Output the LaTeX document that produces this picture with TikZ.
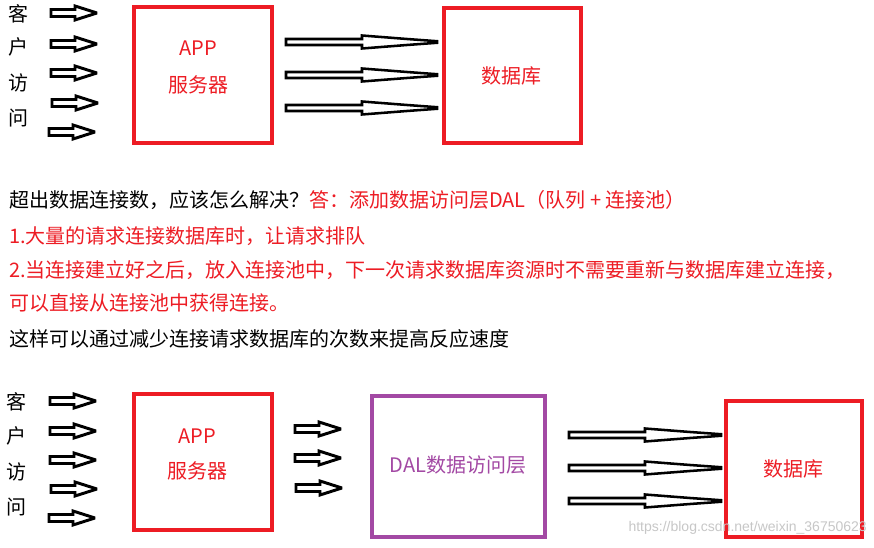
\documentclass[tikz,border=0pt]{standalone}
\usepackage{fontspec}
\newfontfamily\cjk{Noto Sans CJK SC}
\newfontfamily\wmfont{Liberation Sans}
\definecolor{pred}{HTML}{ED1C24}
\definecolor{ppurple}{HTML}{A349A4}
\newcommand{\smallarrow}[3]{% x1, x2, y
  \draw[arr] (#1,#3-3.5) -- (#1+24,#3-3.5) -- (#1+24,#3-7) -- (#2-2,#3) -- (#1+24,#3+7) -- (#1+24,#3+3.5) -- (#1,#3+3.5) -- cycle;}
\newcommand{\longarrow}[4]{% x1, x2, y, head start
  \draw[arr, line width=1.9pt] (#1,#3-3) -- (#4,#3-3) -- (#4,#3-6.5) -- (#4+45,#3-3) -- (#2,#3-0.8) -- (#2,#3+0.8) -- (#4+45,#3+3) -- (#4,#3+6.5) -- (#4,#3+3) -- (#1,#3+3) -- cycle;}
\begin{document}
\begin{tikzpicture}[x=0.75pt,y=-0.75pt,
  font=\cjk\fontsize{15pt}{18pt}\selectfont,
  arr/.style={draw=black,line width=2.2pt,fill=white,line join=miter,miter limit=2},
  redbox/.style={draw=pred,line width=2.4pt},
  purplebox/.style={draw=ppurple,line width=2.4pt},
  lbl/.style={inner sep=0pt,anchor=center},
  line/.style={inner sep=0pt,anchor=west}]
\useasboundingbox[fill=white] (0,0) rectangle (874,548);

% ---------- top section ----------
\node[lbl] (c1) at (18,14) {客};
\node[lbl] (c2) at (18,47) {户};
\node[lbl] (c3) at (18,83) {访};
\node[lbl] (c4) at (18,118) {问};

\smallarrow{51}{99}{13}
\smallarrow{51}{99}{44}
\smallarrow{51}{99}{73}
\smallarrow{52}{100}{103}
\smallarrow{49}{97}{132}

\draw[redbox] (134,7) rectangle (272,143);
\node[lbl,text=pred] (appt1) at (198,48) {APP};
\node[lbl,text=pred] (apps1) at (198,85) {服务器};

\longarrow{286}{437}{42}{362}
\longarrow{286}{437}{75}{362}
\longarrow{286}{437}{108}{362}

\draw[redbox] (444,8) rectangle (581,143);
\node[lbl,text=pred] (db1) at (511,76) {数据库};

% ---------- text ----------
\node[line] (t1) at (9,200) {超出数据连接数，应该怎么解决？\textcolor{pred}{答：添加数据访问层DAL（队列 + 连接池）}};
\node[line,text=pred] (t2) at (9,236) {1.大量的请求连接数据库时，让请求排队};
\node[line,text=pred] (t3) at (9,270) {2.当连接建立好之后，放入连接池中，下一次请求数据库资源时不需要重新与数据库建立连接，};
\node[line,text=pred] (t4) at (9,303) {可以直接从连接池中获得连接。};
\node[line] (t5) at (9,339) {这样可以通过减少连接请求数据库的次数来提高反应速度};

% ---------- bottom section ----------
\node[lbl] (d1) at (17,402) {客};
\node[lbl] (d2) at (17,436) {户};
\node[lbl] (d3) at (17,472) {访};
\node[lbl] (d4) at (17,507) {问};

\smallarrow{50}{98}{401}
\smallarrow{50}{98}{431}
\smallarrow{50}{98}{460}
\smallarrow{51}{99}{489}
\smallarrow{49}{97}{518}

\draw[redbox] (134,394) rectangle (272,530);
\node[lbl,text=pred] (appt2) at (197,436) {APP};
\node[lbl,text=pred] (apps2) at (197,471) {服务器};

\smallarrow{295}{343}{429}
\smallarrow{295}{343}{458}
\smallarrow{296}{344}{488}

\draw[purplebox] (372,396) rectangle (545,537);
\node[lbl,text=ppurple] (dal) at (458,465) {DAL数据访问层};

\longarrow{569}{721}{435}{645}
\longarrow{569}{721}{468}{645}
\longarrow{569}{721}{501}{645}

\draw[redbox] (726,401) rectangle (862,537);
\node[lbl,text=pred] (db2) at (793,469) {数据库};

\node[inner sep=0pt,anchor=east,text=black!22,font=\wmfont\fontsize{10.5pt}{12pt}\selectfont] (wm) at (867,528) {https://blog.csdn.net/weixin\_36750623};
\end{tikzpicture}
\end{document}
